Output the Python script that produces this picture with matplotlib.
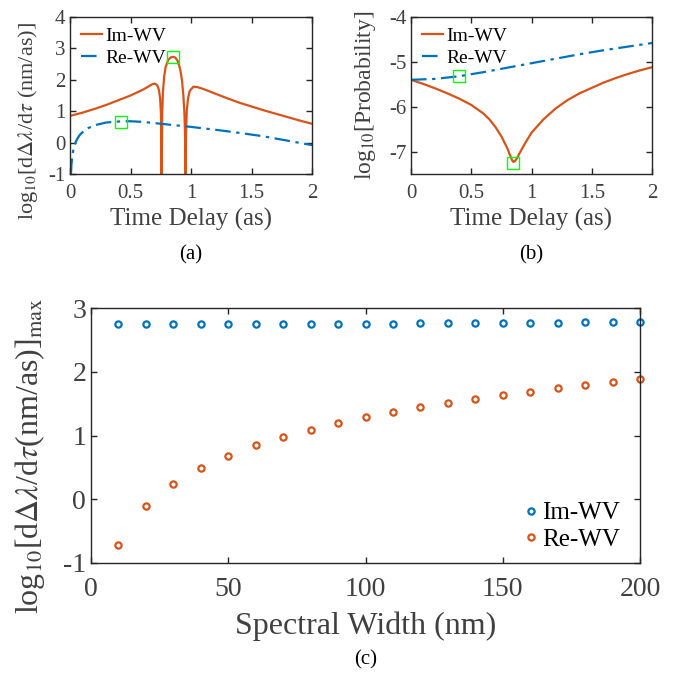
import numpy as np
import matplotlib
matplotlib.use('Agg')
import matplotlib.pyplot as plt

plt.rcParams['font.family'] = ['Liberation Serif', 'DejaVu Serif']
plt.rcParams['mathtext.fontset'] = 'stix'
plt.rcParams['axes.unicode_minus'] = False

# colours (MATLAB default order)
blue = '#0072BD'
orange = '#D95319'
green = '#00FF00'
dark = '#262626'
txt = '#404040'

# ---- panel (a): log10 of dLambda/dtau vs time delay
a_t_im = [0, 0.1, 0.2, 0.3, 0.4, 0.5, 0.6, 0.65, 0.68, 0.70, 0.72, 0.735, 0.745, 0.752, 0.757,
          0.762, 0.768, 0.778, 0.79, 0.81, 0.83, 0.85, 0.87, 0.89, 0.91, 0.925, 0.937, 0.946, 0.951, 0.955,
          0.959, 0.965, 0.975, 0.99, 1.02, 1.05, 1.1, 1.2, 1.3, 1.4, 1.5, 1.6, 1.7, 1.8, 1.9, 2.0]
a_y_im = [0.85, 0.95, 1.07, 1.2, 1.35, 1.5, 1.68, 1.79, 1.86, 1.88, 1.83, 1.68, 1.4, 0.9, -1.5,
          0.9, 1.6, 2.1, 2.4, 2.62, 2.71, 2.73, 2.71, 2.6, 2.35, 2.0, 1.5, 0.9, 0.2, -1.5,
          0.3, 1.0, 1.4, 1.65, 1.78, 1.77, 1.71, 1.56, 1.41, 1.27, 1.15, 1.03, 0.92, 0.81, 0.7, 0.6]
a_t_re = [0.008, 0.012, 0.02, 0.03, 0.045, 0.06, 0.08, 0.1, 0.15, 0.2, 0.3, 0.43, 0.5, 0.6, 0.7, 0.8,
          0.9, 1.0, 1.2, 1.4, 1.6, 1.8, 2.0]
a_y_re = [-1.0, -0.7, -0.4, -0.18, 0.0, 0.12, 0.24, 0.32, 0.46, 0.55, 0.64, 0.68, 0.68, 0.66, 0.62,
          0.58, 0.54, 0.5, 0.41, 0.31, 0.2, 0.06, -0.08]
a_mark_im = (0.85, 2.72)
a_mark_re = (0.42, 0.66)

# ---- panel (b): log10 of probability vs time delay
b_t_im = [0, 0.1, 0.2, 0.3, 0.4, 0.5, 0.6, 0.65, 0.7, 0.75, 0.8, 0.82, 0.84, 0.85, 0.86, 0.88,
          0.9, 0.95, 1.0, 1.1, 1.2, 1.3, 1.4, 1.5, 1.6, 1.7, 1.8, 1.9, 2.0]
b_y_im = [-5.4, -5.49, -5.59, -5.7, -5.82, -5.96, -6.15, -6.28, -6.45, -6.66, -6.93, -7.07, -7.2,
          -7.23, -7.22, -7.15, -7.04, -6.8, -6.58, -6.28, -6.04, -5.85, -5.7, -5.58, -5.46, -5.36,
          -5.27, -5.19, -5.12]
b_t_re = [0, 0.2, 0.4, 0.6, 0.8, 1.0, 1.2, 1.4, 1.6, 1.8, 2.0]
b_y_re = [-5.4, -5.38, -5.32, -5.23, -5.13, -5.03, -4.93, -4.83, -4.74, -4.66, -4.58]
b_mark_im = (0.85, -7.25)
b_mark_re = (0.4, -5.32)

# ---- panel (c): max value vs spectral width
c_width = [10, 20, 30, 40, 50, 60, 70, 80, 90, 100, 110, 120, 130, 140, 150, 160, 170, 180, 190, 200]
c_im = [2.745, 2.745, 2.745, 2.745, 2.745, 2.747, 2.748, 2.75, 2.752, 2.754, 2.756, 2.758, 2.76,
        2.762, 2.765, 2.767, 2.77, 2.773, 2.776, 2.78]
c_re = [-0.71, -0.11, 0.24, 0.49, 0.68, 0.845, 0.975, 1.09, 1.19, 1.29, 1.37, 1.44, 1.51, 1.57,
        1.63, 1.69, 1.74, 1.79, 1.84, 1.88]

W, H = 682, 679
fig = plt.figure(figsize=(W / 100, H / 100), dpi=100)


def px_axes(x0, y0, x1, y1):
    return fig.add_axes([x0 / W, 1 - y1 / H, (x1 - x0) / W, (y1 - y0) / H])


def style(ax, fs, pad):
    for s in ax.spines.values():
        s.set_color(dark)
        s.set_linewidth(1.0)
    ax.tick_params(direction='in', top=True, right=True, labelsize=fs, colors=dark,
                   length=4, width=1.0, labelcolor=txt)
    ax.tick_params(axis='x', pad=pad)


dashdot = (0, (7, 2.5, 1.5, 2.5))

# (a)
ax = px_axes(70, 17, 312, 174)
ax.plot(a_t_im, a_y_im, color=orange, lw=1.6, label='Im-WV')
ax.plot(a_t_re, a_y_re, color=blue, lw=1.6, ls=dashdot, label='Re-WV')
ax.plot(*a_mark_im, 's', mfc='none', mec=green, ms=9, mew=1.0)
ax.plot(*a_mark_re, 's', mfc='none', mec=green, ms=9, mew=1.0)
ax.set_xlim(0, 2)
ax.set_ylim(-1, 4)
ax.set_xticks([0, 0.5, 1, 1.5, 2])
ax.set_xticklabels(['0', '0.5', '1', '1.5', '2'])
ax.set_yticks([-1, 0, 1, 2, 3, 4])
style(ax, 15, 7)
ax.set_xlabel('Time Delay (as)', fontsize=18, color=txt, labelpad=4)
ax.set_ylabel(r'log$_{10}$[d$\Delta\lambda$/d$\tau$ (nm/as)]', fontsize=16, color=txt)
ax.yaxis.set_label_coords(-0.125, 0.34)
ax.legend(loc='upper left', frameon=False, fontsize=14, handlelength=1.1, borderaxespad=0.15,
          labelspacing=0.2, handletextpad=0.15)
fig.text(191 / W, 1 - 255 / H, '(a)', ha='center', va='center', fontsize=15)

# (b)
ax = px_axes(411, 17, 652, 174)
ax.plot(b_t_im, b_y_im, color=orange, lw=1.6, label='Im-WV')
ax.plot(b_t_re, b_y_re, color=blue, lw=1.6, ls=dashdot, label='Re-WV')
ax.plot(*b_mark_im, 's', mfc='none', mec=green, ms=9, mew=1.0)
ax.plot(*b_mark_re, 's', mfc='none', mec=green, ms=9, mew=1.0)
ax.set_xlim(0, 2)
ax.set_ylim(-7.5, -4)
ax.set_xticks([0, 0.5, 1, 1.5, 2])
ax.set_xticklabels(['0', '0.5', '1', '1.5', '2'])
ax.set_yticks([-7, -6, -5, -4])
style(ax, 15, 7)
ax.set_xlabel('Time Delay (as)', fontsize=18, color=txt, labelpad=4)
ax.set_ylabel(r'log$_{10}$[Probability]', fontsize=17, color=txt)
ax.yaxis.set_label_coords(-0.137, 0.5)
ax.legend(loc='upper left', frameon=False, fontsize=14, handlelength=1.1, borderaxespad=0.15,
          labelspacing=0.2, handletextpad=0.15)
fig.text(531 / W, 1 - 255 / H, '(b)', ha='center', va='center', fontsize=15)

# (c)
ax = px_axes(91, 308, 640, 563)
ax.plot(c_width, c_im, 'o', mfc='none', mec=blue, ms=4.5, mew=1.6, label='Im-WV', clip_on=False)
ax.plot(c_width, c_re, 'o', mfc='none', mec=orange, ms=4.5, mew=1.6, label='Re-WV', clip_on=False)
ax.set_xlim(0, 200)
ax.set_ylim(-1, 3)
ax.set_xticks([0, 50, 100, 150, 200])
ax.set_yticks([-1, 0, 1, 2, 3])
style(ax, 20, 10)
ax.set_xlabel('Spectral Width (nm)', fontsize=23, color=txt, labelpad=7)
ax.set_ylabel(r'log$_{10}$[d$\Delta\lambda$/d$\tau$(nm/as)]$_{\rm max}$', fontsize=23, color=txt)
ax.yaxis.set_label_coords(-0.08, 0.42)
ax.legend(loc='lower right', bbox_to_anchor=(1.0, -0.03), frameon=False, fontsize=18,
          handlelength=0.6, handletextpad=0.15, borderaxespad=0.4, labelspacing=0.15)
fig.text(366 / W, 1 - 660 / H, '(c)', ha='center', va='center', fontsize=15)

fig.savefig('out.png', dpi=100)
